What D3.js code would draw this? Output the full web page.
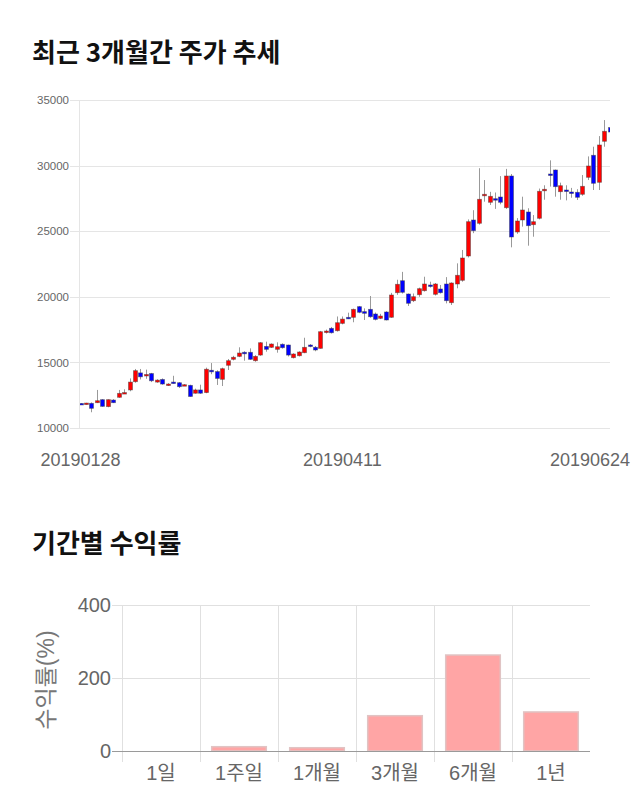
<!DOCTYPE html>
<html>
<head>
<meta charset="utf-8">
<script src="https://cdn.jsdelivr.net/npm/d3@7"></script>
<style>
  html, body { margin: 0; padding: 0; background: #fff; }
  svg { display: block; }
</style>
</head>
<body>
<svg id="chart" width="640" height="810"></svg>
<script>
// ---- Data ----
const dates = [
  "20190128","20190129","20190130","20190131",
  "20190207","20190208","20190211","20190212","20190213","20190214","20190215",
  "20190218","20190219","20190220","20190221","20190222","20190225","20190226","20190227","20190228",
  "20190304","20190305","20190306","20190307","20190308","20190311","20190312","20190313","20190314","20190315",
  "20190318","20190319","20190320","20190321","20190322","20190325","20190326","20190327","20190328","20190329",
  "20190401","20190402","20190403","20190404","20190405","20190408","20190409","20190410","20190411","20190412",
  "20190415","20190416","20190417","20190418","20190419","20190422","20190423","20190424","20190425","20190426",
  "20190429","20190430","20190502","20190503","20190507","20190508","20190509","20190510",
  "20190513","20190514","20190515","20190516","20190517","20190520","20190521","20190522","20190523","20190524",
  "20190527","20190528","20190529","20190530","20190531",
  "20190603","20190604","20190605","20190607","20190610","20190611","20190612","20190613","20190614",
  "20190617","20190618","20190619","20190620","20190621","20190624"
];
const openP = [
  11870,11830,11880,11930,12160,11630,12130,12340,12640,12900,
  13530,14200,13980,14150,13500,13700,13250,13500,13450,13250,
  13250,12650,12900,12700,14400,14300,13710,14780,15235,15460,
  15770,15770,15130,15560,16220,16150,15995,16380,16325,15360,
  15510,15740,16325,16150,16070,17315,17595,17415,17975,18435,
  18435,19250,18870,19045,18690,18360,18842,18438,20313,21227,
  20213,19703,20160,20466,20900,20191,20595,20976,19550,20976,
  21258,23110,25854,25603,27706,27203,27477,27607,26791,29207,
  24939,25854,26464,25496,25984,28087,29360,29665,28011,28140,
  27988,27965,27813,29108,30786,28727,31853,32900
];
const highP = [
  11900,11920,11950,12900,12200,12180,12200,12900,12950,13780,
  14500,14500,14450,14200,13720,13780,13420,13980,13500,13350,
  13300,13000,13300,14600,14950,14400,14600,15260,15500,16150,
  15850,16070,15550,16550,16580,16450,16530,16450,16350,15700,
  15850,16880,16400,16250,17400,17500,17700,18500,18500,18790,
  19100,19300,19120,20060,18800,18700,18900,20300,21300,21900,
  20250,20250,20700,21530,21150,21050,20900,21500,21100,22550,
  23570,25900,26600,29800,28900,28000,27950,29200,29750,29360,
  26000,27630,26750,26230,28250,28500,30400,29700,28700,28500,
  28300,28200,29280,30700,31440,32250,33470,33500
];
const lowP = [
  11800,11780,11200,11900,11620,11580,11900,12300,12600,12800,
  13450,13700,13750,13500,13450,13300,13200,13380,13050,13200,
  12380,12620,12600,12650,14100,13280,13200,14420,15150,15400,
  15130,15200,15050,15500,15815,16100,15740,16050,15450,15300,
  15450,15700,16150,15850,16050,17200,17200,17350,17900,18300,
  18060,18750,18230,18400,18200,18300,18200,18400,20150,20250,
  19300,19600,20000,20400,20700,20100,20250,19500,19375,20650,
  21150,23000,24850,25500,27250,27000,26700,27050,26700,23770,
  24800,25350,23895,24580,25900,27400,28400,27630,27400,27350,
  27550,27380,27700,28900,28140,28140,31440,32100
];
const closeP = [
  11840,11900,11500,12080,11650,12160,11930,12640,12700,13500,
  14370,13900,14080,13600,13650,13350,13350,13400,13150,13300,
  12400,12900,12650,14480,14280,13780,14520,15130,15390,15715,
  15660,15235,15460,16500,15995,16400,16195,16120,15560,15640,
  15790,16150,16220,15945,17340,17390,17260,18025,18300,18330,
  19045,18820,18740,18480,18280,18535,18232,20137,20953,20343,
  19505,20008,20618,20976,20824,20976,20313,19703,21052,21639,
  22957,25725,25039,27432,27813,27660,27401,27203,29207,24558,
  25778,26616,25420,25725,28041,28194,29300,28392,28468,28041,
  27889,27584,28422,29970,28651,31571,32615,32560
];
const priceTicks = [10000, 15000, 20000, 25000, 30000, 35000];
const dateTickLabels = ["20190128", "20190411", "20190624"];

const periods = ["1일", "1주일", "1개월", "3개월", "6개월", "1년"];
const returns = [0, 11.8, 9, 96.7, 263, 107];
const returnTicks = [0, 200, 400];

// ---- Drawing ----
const svg = d3.select("#chart");
const KR = "'Noto Sans CJK KR', 'Noto Sans', sans-serif";
const LAT = "'Liberation Sans', Arial, 'Noto Sans CJK KR', sans-serif";

svg.append("text").attr("x", 32).attr("y", 62)
  .attr("font-family", KR).attr("font-weight", 700).attr("font-size", 26)
  .attr("fill", "#111").text("최근 3개월간 주가 추세");

// Candle chart
const cL = 80, cR = 610, cT = 100, cB = 428;
const x = d3.scalePoint().domain(dates).range([80.5, 609.5]);
const y = d3.scaleLinear().domain([10000, 35000]).range([cB, cT]);

const gGrid = svg.append("g");
gGrid.selectAll("line.h").data(priceTicks).enter().append("line")
  .attr("x1", 70).attr("x2", cR)
  .attr("y1", d => Math.round(y(d)) + 0.5).attr("y2", d => Math.round(y(d)) + 0.5)
  .attr("stroke", "#e5e5e5").attr("stroke-width", 1);
gGrid.append("line").attr("x1", cL - 0.5).attr("x2", cL - 0.5)
  .attr("y1", cT).attr("y2", cB + 1).attr("stroke", "#e5e5e5");

const yAxis = d3.axisLeft(y).tickValues(priceTicks).tickFormat(d3.format("d")).tickSize(0).tickPadding(0);
const gy = svg.append("g").attr("transform", `translate(69,0)`).call(yAxis);
gy.select(".domain").remove();
gy.selectAll("text").attr("font-family", LAT).attr("font-size", 11.5).attr("fill", "#666");

svg.append("defs").append("clipPath").attr("id", "plotclip")
  .append("rect").attr("x", cL).attr("y", cT - 20).attr("width", cR - cL).attr("height", cB - cT + 40);

const candles = dates.map((d, i) => ({d, o: openP[i], h: highP[i], l: lowP[i], c: closeP[i]}));
const gC = svg.append("g").attr("clip-path", "url(#plotclip)");
const bw = 4;
gC.selectAll("line.wick").data(candles).enter().append("line")
  .attr("x1", d => Math.round(x(d.d)) + 0.5).attr("x2", d => Math.round(x(d.d)) + 0.5)
  .attr("y1", d => y(d.h)).attr("y2", d => y(d.l))
  .attr("stroke", "#999").attr("stroke-width", 1);
gC.selectAll("rect.body").data(candles).enter().append("rect")
  .attr("x", d => Math.round(x(d.d)) - bw / 2 + 0.5)
  .attr("y", d => y(Math.max(d.o, d.c)))
  .attr("width", bw)
  .attr("height", d => Math.max(1.5, Math.abs(y(d.o) - y(d.c))))
  .attr("fill", d => d.c >= d.o ? "#ff0000" : "#0000ff")
  .attr("stroke", "rgba(60,60,60,0.55)").attr("stroke-width", 0.8);

const xAxisG = svg.append("g");
xAxisG.selectAll("text").data(dateTickLabels).enter().append("text")
  .attr("x", d => Math.min(x(d), 630 - 40))
  .attr("y", 466)
  .attr("text-anchor", "middle")
  .attr("font-family", LAT).attr("font-size", 18).attr("fill", "#666")
  .text(d => d);

// Returns chart
svg.append("text").attr("x", 32).attr("y", 553)
  .attr("font-family", KR).attr("font-weight", 700).attr("font-size", 26)
  .attr("fill", "#111").text("기간별 수익률");

const bL = 122, bR = 590, bT = 605, bB = 751;
const xb = d3.scaleBand().domain(periods).range([bL, bR]).paddingInner(0.3).paddingOuter(0.15);
const xg = d3.scaleBand().domain(periods).range([bL, bR]);
const yb = d3.scaleLinear().domain([0, 400]).range([bB, bT]);

const gB = svg.append("g");
gB.selectAll("line.vg").data(periods).enter().append("line")
  .attr("x1", d => Math.round(xg(d)) + 0.5).attr("x2", d => Math.round(xg(d)) + 0.5)
  .attr("y1", bT).attr("y2", bB + 11)
  .attr("stroke", "#e0e0e0");
gB.selectAll("line.hg").data(returnTicks.filter(t => t !== 0)).enter().append("line")
  .attr("x1", bL - 10).attr("x2", bR)
  .attr("y1", d => Math.round(yb(d)) + 0.5).attr("y2", d => Math.round(yb(d)) + 0.5)
  .attr("stroke", "#e0e0e0");

gB.selectAll("rect.bar").data(periods).enter().append("rect")
  .attr("x", d => xb(d)).attr("width", xb.bandwidth())
  .attr("y", (d, i) => yb(Math.max(0, returns[i])))
  .attr("height", (d, i) => Math.abs(yb(returns[i]) - yb(0)))
  .attr("fill", "#ffa5a5").attr("stroke", "#e0c4c4").attr("stroke-width", 1.5);

gB.append("line").attr("x1", bL - 10).attr("x2", bR)
  .attr("y1", Math.round(yb(0)) + 0.5).attr("y2", Math.round(yb(0)) + 0.5)
  .attr("stroke", "#9a9a9a");

const ybAxis = d3.axisLeft(yb).tickValues(returnTicks).tickSize(0).tickPadding(0);
const gyb = svg.append("g").attr("transform", `translate(111,0)`).call(ybAxis);
gyb.select(".domain").remove();
gyb.selectAll("text").attr("font-family", LAT).attr("font-size", 20).attr("fill", "#666");

const xbAxis = d3.axisBottom(xg).tickSize(0).tickPadding(0);
const gxb = svg.append("g").attr("transform", `translate(0,${bB + 11})`).call(xbAxis);
gxb.select(".domain").remove();
gxb.selectAll("text").attr("font-family", LAT).attr("font-size", 20).attr("fill", "#666").attr("dy", "0.9em");

svg.append("text")
  .attr("transform", `translate(54,${(bT + bB) / 2 + 2}) rotate(-90)`)
  .attr("text-anchor", "middle")
  .attr("font-family", LAT).attr("font-size", 23).attr("fill", "#777")
  .text("수익률(%)");
</script>
</body>
</html>
